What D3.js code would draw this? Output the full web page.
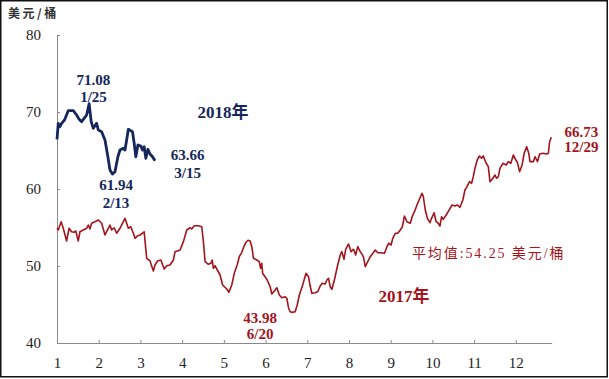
<!DOCTYPE html>
<html><head><meta charset="utf-8">
<script src="https://cdn.jsdelivr.net/npm/d3@7"></script>
<style>
html,body{margin:0;padding:0;background:#fff;}
svg{display:block;}
</style></head>
<body>
<script>
// ---- data ----
const xTicks = [1,2,3,4,5,6,7,8,9,10,11,12];
const yTicks = [40,50,60,70,80];
const unitLabel = "美元/桶";

const months2018 = [1.00,1.03,1.07,1.11,1.18,1.27,1.39,1.47,1.53,1.59,1.65,1.71,1.77,1.82,1.87,1.95,1.99,2.07,2.15,2.22,2.27,2.33,2.39,2.46,2.51,2.59,2.63,2.67,2.71,2.81,2.85,2.89,2.94,3.01,3.05,3.09,3.13,3.18,3.23,3.29,3.35];
const values2018 = [66.45,68.53,68.09,68.53,68.96,70.17,70.17,69.61,69.05,68.74,69.18,69.61,71.08,68.74,67.88,68.53,67.66,67.44,66.36,64.19,62.47,61.94,62.25,64.19,65.06,65.29,65.06,66.36,67.75,67.44,65.94,64.19,65.71,65.58,65.06,65.49,63.99,65.16,64.55,64.19,63.66];

const months2017 = [1.00,1.03,1.10,1.15,1.23,1.29,1.35,1.41,1.45,1.51,1.55,1.63,1.71,1.75,1.79,1.83,1.91,1.99,2.07,2.15,2.23,2.27,2.31,2.37,2.43,2.51,2.59,2.63,2.67,2.71,2.77,2.83,2.87,2.94,2.99,3.05,3.09,3.15,3.23,3.31,3.35,3.41,3.49,3.57,3.63,3.71,3.79,3.83,3.95,4.03,
4.11,4.19,4.23,4.29,4.39,4.47,4.51,4.55,4.63,4.69,4.72,4.75,4.79,4.83,4.91,4.97,5.07,5.12,5.19,5.25,5.32,5.37,5.43,5.48,5.53,5.58,5.63,5.67,5.71,5.79,5.85,5.88,5.91,5.93,6.04,6.11,6.15,6.23,6.27,6.33,6.39,6.47,6.51,6.55,6.59,6.63,6.71,6.76,6.81,6.89,6.97,7.03,7.07,
7.11,7.19,7.25,7.31,7.36,7.43,7.47,7.51,7.55,7.59,7.65,7.73,7.79,7.83,7.88,7.92,7.99,8.05,8.11,8.16,8.21,8.27,8.31,8.35,8.39,8.45,8.51,8.56,8.63,8.69,8.77,8.85,8.91,8.95,9.01,9.05,9.11,9.17,9.23,9.28,9.33,9.39,9.47,9.52,9.57,9.63,9.68,9.75,9.78,
9.83,9.88,9.94,9.98,10.04,10.09,10.14,10.18,10.22,10.26,10.33,10.41,10.47,10.54,10.60,10.66,10.73,10.78,10.82,10.89,10.94,10.98,11.02,11.08,11.13,11.18,11.22,11.29,11.34,11.38,11.45,11.50,11.54,11.58,11.62,11.69,11.77,11.82,11.88,11.94,11.99,12.04,12.09,12.15,12.20,12.26,12.31,12.34,12.42,12.46,12.52,12.57,12.65,12.74,12.78,12.81,12.85];
const values2017 = [54.90,54.68,55.75,54.90,53.25,54.90,54.45,54.38,54.55,53.25,54.45,54.68,54.90,55.32,54.81,55.55,55.75,55.97,55.55,54.03,54.90,55.32,54.68,54.97,54.25,54.90,55.75,56.19,55.55,54.90,55.10,54.25,53.60,53.94,54.03,54.25,54.45,51.00,50.65,49.35,50.13,50.65,50.78,49.61,50.04,50.13,50.78,51.86,52.08,53.16,
54.68,54.97,54.81,55.23,55.23,55.10,53.16,50.56,50.22,50.35,50.78,49.70,50.04,49.61,48.83,47.53,47.01,46.58,47.53,49.05,50.13,51.21,51.78,52.51,53.08,53.34,53.25,52.51,51.00,50.78,50.56,49.70,50.35,49.05,48.18,47.31,46.36,46.88,47.18,46.23,45.88,46.01,45.81,44.58,44.06,43.98,44.06,44.97,46.23,47.53,49.05,48.61,47.40,
46.45,46.53,46.66,47.40,47.75,47.66,48.18,48.40,47.31,46.97,48.18,50.13,51.43,51.86,50.87,52.17,52.86,51.86,52.17,51.43,52.51,51.86,51.56,51.13,49.91,50.56,51.21,51.56,52.08,51.73,51.73,51.65,52.51,52.95,52.73,53.60,54.25,54.25,54.68,55.10,56.49,55.75,55.55,56.49,57.05,57.92,58.57,59.44,59.09,
57.27,56.19,55.62,56.19,56.92,55.75,55.55,55.19,56.40,56.06,56.62,57.36,57.92,57.79,57.92,57.62,58.57,59.87,60.22,60.95,60.74,61.60,62.69,63.86,64.29,63.99,64.29,63.34,62.90,60.95,61.39,61.82,61.39,61.60,62.69,63.34,63.12,63.55,63.34,64.42,63.86,63.42,62.25,63.12,64.64,65.49,64.64,63.55,63.55,64.19,63.55,64.55,64.64,64.55,64.64,66.14,66.73];

// annotations: text lines with anchor position in data units
const notes2018 = [
  {lines:["71.08","1/25"], m:1.875, v:73.5, gap:17},
  {lines:["61.94","2/13"], m:2.415, v:59.87, gap:18},
  {lines:["63.66","3/15"], m:4.13, v:63.77, gap:18}
];
const title2018 = "2018年";
const notes2017 = [
  {lines:["43.98","6/20"], m:5.87, v:42.6, gap:16},
  {lines:["66.73","12/29"], m:13.57, v:66.75, gap:15}
];
const title2017 = "2017年";
const avgLabel = "平均值:54.25 美元/桶";

// ---- drawing ----
const W = 609, H = 379;
const svg = d3.select("body").append("svg").attr("width", W).attr("height", H);

svg.append("rect").attr("x",0.75).attr("y",0.75).attr("width",W-2.5).attr("height",H-3)
  .attr("fill","#fff").attr("stroke","#111").attr("stroke-width",1.5);

const x = d3.scaleLinear().domain([1, 12.86]).range([57, 551.7]);
const y = d3.scaleLinear().domain([40, 80]).range([343, 35]);

const serif = "'Liberation Serif','Times New Roman','Noto Sans CJK SC',serif";
const axisColor = "#8a8a8a";

const gx = svg.append("g").attr("transform", `translate(0,${y(40)})`)
  .call(d3.axisBottom(x).tickValues(xTicks).tickFormat(d3.format("d")).tickSize(-3).tickSizeOuter(0).tickPadding(14));
const gy = svg.append("g").attr("transform", `translate(${x(1)},0)`)
  .call(d3.axisLeft(y).tickValues(yTicks).tickFormat(d3.format("d")).tickSize(-3).tickSizeOuter(0).tickPadding(16));
[gx, gy].forEach(g => {
  g.select(".domain").attr("stroke", axisColor);
  g.selectAll(".tick line").attr("stroke", axisColor);
  g.selectAll(".tick text").attr("fill","#222").style("font-family", serif).style("font-size","15px");
});

svg.append("text").attr("x",8).attr("y",18).text(unitLabel)
  .attr("fill","#333").style("font-family","'Noto Sans CJK SC',sans-serif").style("font-size","12px")
  .style("font-weight","bold").style("letter-spacing","2.5px");

const line = d3.line().x(d => x(d[0])).y(d => y(d[1]));
const data2017 = months2017.map((m,i) => [m, values2017[i]]);
const data2018 = months2018.map((m,i) => [m, values2018[i]]);

const red = "#a3141c", navy = "#15275c";

svg.append("path").datum(data2017).attr("d", line).attr("fill","none")
  .attr("stroke", red).attr("stroke-width",1.6).attr("stroke-linejoin","round");
svg.append("path").datum(data2018).attr("d", line).attr("fill","none")
  .attr("stroke", navy).attr("stroke-width",2.8).attr("stroke-linejoin","round");

function notes(list, color) {
  list.forEach(n => {
    const t = svg.append("text").attr("x", x(n.m)).attr("y", y(n.v))
      .attr("fill", color).attr("text-anchor", "middle")
      .style("font-family", serif).style("font-size","15px").style("font-weight","bold");
    n.lines.forEach((s,i) => t.append("tspan").attr("x", x(n.m)).attr("dy", i ? n.gap : 0).text(s));
  });
}
notes(notes2018, navy);
notes(notes2017, red);

svg.append("text").attr("x", x(4.98)).attr("y", y(69.22)).text(title2018)
  .attr("fill", navy).attr("text-anchor","middle")
  .style("font-family", serif).style("font-size","17px").style("font-weight","bold");
svg.append("text").attr("x", x(9.32)).attr("y", y(45.32)).text(title2017)
  .attr("fill", red).attr("text-anchor","middle")
  .style("font-family", serif).style("font-size","17px").style("font-weight","bold");
svg.append("text").attr("x", x(9.51)).attr("y", y(51.04)).text(avgLabel)
  .attr("fill", red).attr("text-anchor","start")
  .style("font-family", serif).style("font-size","14px").style("letter-spacing","1.9px");
</script>
</body></html>
